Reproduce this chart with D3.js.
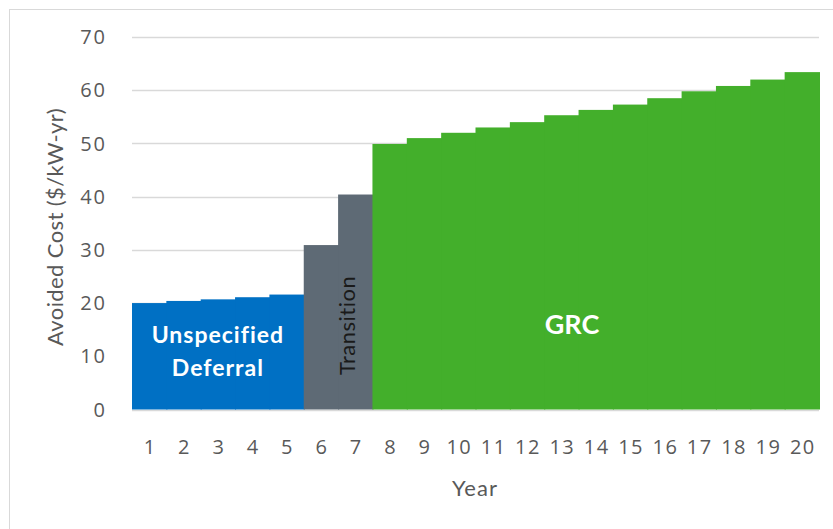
<!DOCTYPE html>
<html>
<head>
<meta charset="utf-8">
<script src="https://cdn.jsdelivr.net/npm/d3@7"></script>
<style>
  body { margin: 0; background: #fff; }
  svg { display: block; font-family: Lato, "Open Sans", sans-serif; }
</style>
</head>
<body>
<div id="chart"></div>
<script>
// data
const years = ["1","2","3","4","5","6","7","8","9","10","11","12","13","14","15","16","17","18","19","20"];
const avoidedCost = [20.0, 20.4, 20.7, 21.1, 21.6, 30.9, 40.4, 49.9, 51.0, 52.0, 53.0, 54.0, 55.3, 56.3, 57.3, 58.5, 59.8, 60.8, 62.0, 63.4];
const phaseOfYear = ["Unspecified Deferral","Unspecified Deferral","Unspecified Deferral","Unspecified Deferral","Unspecified Deferral",
  "Transition","Transition",
  "GRC","GRC","GRC","GRC","GRC","GRC","GRC","GRC","GRC","GRC","GRC","GRC","GRC"];
const phases = ["Unspecified Deferral", "Transition", "GRC"];
const phaseColors = ["#0070c4", "#5e6a75", "#43af2b"];
const yTicks = [0, 10, 20, 30, 40, 50, 60, 70];

const width = 833, height = 529;
const plotLeft = 132, plotRight = 819, plotTop = 37, plotBottom = 409.5;
const tickFont = "'Open Sans', sans-serif";

const svg = d3.select("#chart").append("svg")
  .attr("width", width)
  .attr("height", height);

// chart frame (only top/left visible inside the window)
svg.append("rect")
  .attr("x", 9.5).attr("y", 9.5)
  .attr("width", width).attr("height", height)
  .attr("fill", "none")
  .attr("stroke", "#d9d9d9");

const x = d3.scaleBand().domain(years).range([plotLeft, plotRight]).padding(0);
const y = d3.scaleLinear().domain([0, 70]).range([plotBottom, plotTop]);
const color = d3.scaleOrdinal().domain(phases).range(phaseColors);

// gridlines
svg.append("g")
  .selectAll("line")
  .data(yTicks)
  .enter().append("line")
  .attr("x1", plotLeft).attr("x2", plotRight)
  .attr("y1", d => Math.round(y(d)) + 0.5)
  .attr("y2", d => Math.round(y(d)) + 0.5)
  .attr("stroke", "#d9d9d9")
  .attr("stroke-width", 1.3);

// y tick labels
svg.append("g")
  .selectAll("text")
  .data(yTicks)
  .enter().append("text")
  .attr("x", 107)
  .attr("y", d => y(d))
  .attr("dy", "0.36em")
  .attr("text-anchor", "end")
  .attr("fill", "#595959")
  .style("font-family", tickFont)
  .style("font-size", "20px")
  .style("letter-spacing", "2px")
  .text(d => d);

// bars (slight overlap so no seams show between neighbours)
svg.append("g")
  .selectAll("rect")
  .data(years)
  .enter().append("rect")
  .attr("x", d => x(d))
  .attr("y", (d, i) => y(avoidedCost[i]))
  .attr("width", x.bandwidth() + 1)
  .attr("height", (d, i) => y(0) - y(avoidedCost[i]))
  .attr("fill", (d, i) => color(phaseOfYear[i]));

// x tick labels
svg.append("g")
  .selectAll("text")
  .data(years)
  .enter().append("text")
  .attr("x", d => x(d) + x.bandwidth() / 2 + 1)
  .attr("y", 447)
  .attr("dy", "0.36em")
  .attr("text-anchor", "middle")
  .attr("fill", "#595959")
  .style("font-family", tickFont)
  .style("font-size", "20px")
  .style("letter-spacing", "1.5px")
  .text(d => d);

// axis titles
svg.append("text")
  .attr("x", 475).attr("y", 488)
  .attr("dy", "0.35em")
  .attr("text-anchor", "middle")
  .attr("fill", "#595959")
  .style("font-size", "22px")
  .style("letter-spacing", "1px")
  .text("Year");

svg.append("text")
  .attr("transform", "translate(55,227) rotate(-90)")
  .attr("dy", "0.35em")
  .attr("text-anchor", "middle")
  .attr("fill", "#595959")
  .style("font-size", "22px")
  .style("letter-spacing", "0.4px")
  .text("Avoided Cost ($/kW-yr)");

// phase labels
function phaseCenter(p) {
  const ys = years.filter((d, i) => phaseOfYear[i] === p);
  return (x(ys[0]) + x(ys[ys.length - 1]) + x.bandwidth()) / 2;
}

const ud = svg.append("text")
  .attr("text-anchor", "middle")
  .attr("fill", "#fff")
  .style("font-size", "23px")
  .style("font-weight", "bold")
  .style("letter-spacing", "1px");
ud.append("tspan").attr("x", phaseCenter("Unspecified Deferral")).attr("y", y(14)).attr("dy", "0.35em").text("Unspecified");
ud.append("tspan").attr("x", phaseCenter("Unspecified Deferral")).attr("y", y(7.8)).attr("dy", "0.35em").text("Deferral");

svg.append("text")
  .attr("transform", "translate(" + (phaseCenter("Transition") + 9) + "," + y(15.8) + ") rotate(-90)")
  .attr("dy", "0.35em")
  .attr("text-anchor", "middle")
  .attr("fill", "#1a1a1a")
  .style("font-size", "22px")
  .style("letter-spacing", "0.5px")
  .text("Transition");

svg.append("text")
  .attr("x", 572).attr("y", y(15.9))
  .attr("dy", "0.35em")
  .attr("text-anchor", "middle")
  .attr("fill", "#fff")
  .style("font-size", "27px")
  .style("font-weight", "bold")
  .text("GRC");
</script>
</body>
</html>
